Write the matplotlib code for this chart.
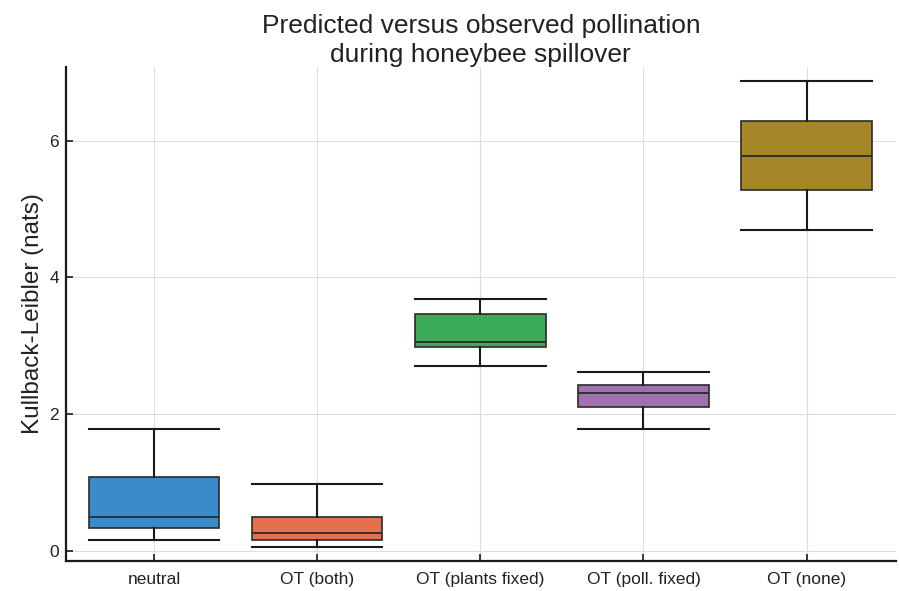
import matplotlib
matplotlib.use("Agg")
import matplotlib.pyplot as plt

# --- Data ---

categories = ["neutral", "OT (both)", "OT (plants fixed)", "OT (poll. fixed)", "OT (none)"]
whisker_low = [0.16, 0.06, 2.71, 1.78, 4.69]
q1 = [0.34, 0.165, 2.98, 2.10, 5.28]
median = [0.49, 0.27, 3.06, 2.31, 5.78]
q3 = [1.085, 0.50, 3.46, 2.42, 6.28]
whisker_high = [1.79, 0.98, 3.68, 2.62, 6.875]
colors = ["#3a8bca", "#e3714e", "#3bab5a", "#a070b0", "#a58727"]

plt.rcParams['font.family'] = ['Liberation Sans', 'DejaVu Sans']

fig = plt.figure(figsize=(8.99, 5.91), dpi=100)
ax = fig.add_axes([66 / 899, (591 - 560.7) / 591, (895.7 - 66) / 899, (560.7 - 66.7) / 591])

stats = []
for i, name in enumerate(categories):
    stats.append({
        "label": name,
        "whislo": whisker_low[i],
        "q1": q1[i],
        "med": median[i],
        "q3": q3[i],
        "whishi": whisker_high[i],
        "fliers": [],
    })

positions = list(range(1, len(categories) + 1))
bp = ax.bxp(stats, positions=positions, widths=0.8, patch_artist=True,
            showfliers=False, capwidths=0.8,
            boxprops=dict(linewidth=1.2, edgecolor="#2a2a2a"),
            medianprops=dict(color="#2a2a2a", linewidth=1.3),
            whiskerprops=dict(color="#1a1a1a", linewidth=1.5),
            capprops=dict(color="#1a1a1a", linewidth=1.5))
for patch, c in zip(bp["boxes"], colors):
    patch.set_facecolor(c)

ax.set_xlim(0.46, 5.546)
ax.set_ylim(-0.142, 7.08)
ax.set_yticks([0, 2, 4, 6])
ax.set_xticks(positions)
ax.set_xticklabels(categories, fontsize=12.5, color="#222222")
ax.tick_params(axis="y", labelsize=12.5, colors="#222222", pad=5)
ax.tick_params(axis="x", pad=8)
ax.tick_params(direction="in", length=5, width=1.2, color="#1a1a1a")

ax.grid(True, color="#dddddd", linewidth=0.8)
ax.set_axisbelow(True)
for side in ["top", "right"]:
    ax.spines[side].set_visible(False)
for side in ["left", "bottom"]:
    ax.spines[side].set_linewidth(1.6)
    ax.spines[side].set_color("#1a1a1a")

ax.set_ylabel("Kullback-Leibler (nats)", fontsize=17.5, color="#222222", labelpad=4)
ax.set_title("Predicted versus observed pollination\nduring honeybee spillover",
             fontsize=19, color="#222222", pad=3, linespacing=1.25)

fig.savefig("out.png", dpi=100)
